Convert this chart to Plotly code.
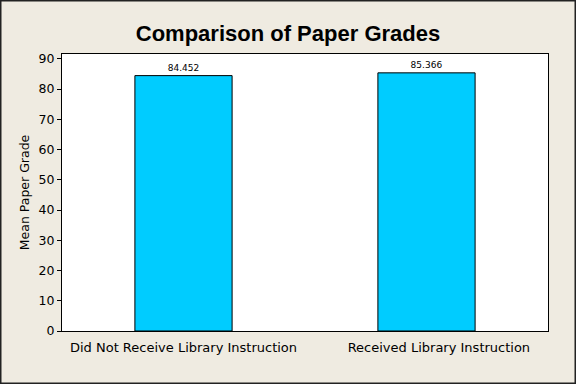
import plotly.graph_objects as go

categories = ["Did Not Receive Library Instruction", "Received Library Instruction"]
means = [84.452, 85.366]
value_labels = ["84.452", "85.366"]
y_ticks = [0, 10, 20, 30, 40, 50, 60, 70, 80, 90]

W, H = 576, 384
L, R, T, B = 62, 28, 54, 53
pw, ph = W - L - R, H - T - B

# the reference draws the second category label slightly right of its bar
tick_text = [categories[0], "\u00a0" * 6 + categories[1]]

fig = go.Figure()
fig.add_trace(go.Bar(
    x=[0, 1], y=means, width=0.4,
    marker=dict(color="#00CCFF", line=dict(color="black", width=1)),
    text=value_labels, textposition="outside",
    textfont=dict(size=9, color="black", family="DejaVu Sans"),
    cliponaxis=False, hoverinfo="skip",
))

fig.update_layout(
    width=W, height=H,
    margin=dict(l=L, r=R, t=T, b=B),
    paper_bgcolor="#EFEBE1",
    plot_bgcolor="white",
    showlegend=False,
    title=dict(text="<b>Comparison of Paper Grades</b>", x=0.5, xanchor="center",
               y=1 - 33 / H, yanchor="middle",
               font=dict(size=22, color="black", family="Liberation Sans")),
    font=dict(family="DejaVu Sans", color="black"),
)
fig.update_xaxes(
    range=[-0.5, 1.5], tickvals=[0, 1], ticktext=tick_text,
    showline=True, linecolor="black", linewidth=1, mirror=True,
    ticks="", showgrid=False, zeroline=False,
    tickfont=dict(size=13, color="black"),
    ticklabelstandoff=4,
)
fig.update_yaxes(
    range=[0, 91.6], tickvals=y_ticks,
    showline=True, linecolor="black", linewidth=1, mirror=True,
    ticks="outside", ticklen=4, tickcolor="black",
    showgrid=False, zeroline=False,
    tickfont=dict(size=12.5, color="black"),
    title=dict(text="Mean Paper Grade", font=dict(size=12.5, color="black"), standoff=6),
)
fig.add_shape(type="rect", xref="paper", yref="paper",
              x0=(-L + 0.75) / pw, x1=(W - L - 0.75) / pw,
              y0=(-B + 0.75) / ph, y1=(H - B - 0.75) / ph,
              line=dict(color="#222222", width=1.5), fillcolor="rgba(0,0,0,0)", layer="below")

fig.write_html("out.html", config={"displayModeBar": False},
               post_script="document.body.style.margin='0';document.body.style.overflow='hidden';")
